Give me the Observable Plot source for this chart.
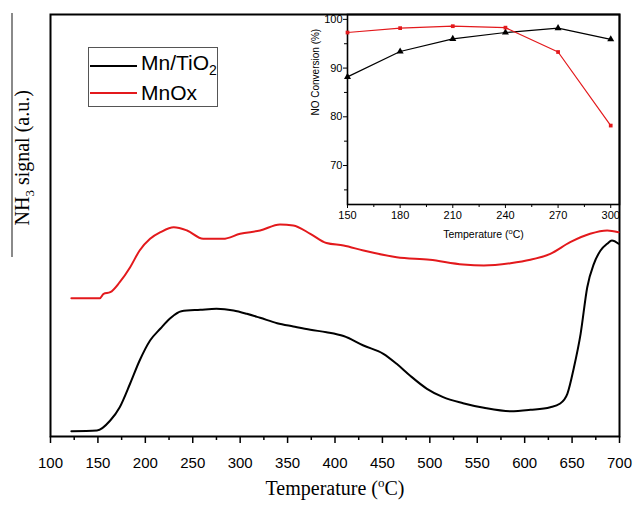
<!DOCTYPE html>
<html><head><meta charset="utf-8">
<script src="https://cdn.jsdelivr.net/npm/d3@7"></script>
<script src="https://cdn.jsdelivr.net/npm/@observablehq/plot@0.6"></script>
<style>
body{margin:0;background:#fff;}
#wrap{position:relative;width:633px;height:505px;overflow:hidden;background:#fff;}
#main,#inset{position:absolute;top:0;}
#main{left:0;}
#inset{left:290px;}
#legend{position:absolute;left:88px;top:47px;width:130px;height:60px;border:1px solid #555;background:#fff;font-family:"Liberation Sans",Arial,sans-serif;font-size:21px;color:#000;box-sizing:border-box;}
.row{position:absolute;left:1px;height:26px;line-height:26px;display:flex;align-items:center;white-space:nowrap;}
.sw{width:47px;height:0;margin-right:4px;}
#artifact{position:absolute;left:11px;top:13px;width:1.5px;height:244px;background:#8a8a8a;}
svg text{white-space:pre;}
</style></head><body>
<div id="wrap">
  <div id="artifact"></div>
  <div id="main"></div>
  <div id="inset"></div>
  <div id="legend"></div>
</div>
<script>
// ---- Main TPD data (temperature °C, NH3 signal a.u.) ----
const mnTiO2Temp = [122,149,163,173,184,194,205,216,226,238,258,275,293,307,321,339,356,374,391,409,430,451,465,479,497,514,535,557,585,606,627,637,645,652,659,666,673,680,687,692,699];
const mnTiO2Signal = [5.3,6,16,29.3,53,76,96,108,118,125.3,126.7,127.7,126,122.7,118.7,113.3,110,106.7,104.3,100.5,91,82.7,72.7,61,47.7,39.3,33.3,28.7,25.3,26.7,29.3,32.7,42.7,69.3,102.7,149.3,172.7,186,192.7,196,192.7];
const mnOxTemp = [122,152,156,163,173,184,194,205,216,230,244,261,282,300,321,342,356,374,391,409,430,465,500,535,557,585,606,627,648,669,687,699];
const mnOxSignal = [138.3,138.3,142.7,144.3,154.3,169.3,186,197.7,204.3,209.3,206,197.7,197.7,202.7,206,212,211,202.7,193.5,191,186,179.3,176.7,172,171,173.3,176.7,182.7,194.3,202.7,206,204.3];
const mainMajorTicks = [100,150,200,250,300,350,400,450,500,550,600,650,700];
const mainMinorTicks = [125,175,225,275,325,375,425,475,525,575,625,675];

// ---- Inset: NO conversion ----
const insetTemp = [150,180,210,240,270,300];
const mnTiO2Conv = [88.2,93.4,96.0,97.3,98.2,95.9];
const mnOxConv = [97.3,98.2,98.6,98.3,93.3,78.2];
const insetXTicks = [150,180,210,240,270,300];
const insetXMinor = [165,195,225,255,285];
const insetYTicks = [70,80,90,100];
const insetYMinor = [65,75,85,95];

const seriesNames = ["Mn/TiO2","MnOx"];
const BLACK = "#000000", RED = "#e3191c";

const blackData = mnTiO2Temp.map((t,i)=>({t, v:mnTiO2Signal[i]}));
const redData = mnOxTemp.map((t,i)=>({t, v:mnOxSignal[i]}));

const main = Plot.plot({
  width:633, height:505,
  marginTop:14, marginRight:14, marginBottom:69, marginLeft:50,
  style:{background:"transparent", fontFamily:"'Liberation Sans', Arial, sans-serif", fontSize:"15px", color:"#000"},
  x:{domain:[100,700]},
  y:{domain:[0,422], axis:null},
  marks:[
    Plot.axisX({ticks:mainMajorTicks, tickSize:7, tickPadding:14, tickFormat:d=>String(d), label:null, strokeWidth:1.5}),
    Plot.axisX({ticks:mainMinorTicks, tickSize:4, tickFormat:()=>"", label:null, strokeWidth:1.5}),
    Plot.frame({stroke:"#000", strokeWidth:2}),
    Plot.line(redData, {x:"t", y:"v", stroke:RED, strokeWidth:2, curve:"monotone-x"}),
    Plot.line(blackData, {x:"t", y:"v", stroke:BLACK, strokeWidth:2, curve:"monotone-x"}),
    Plot.text(["Temperature (oC)"], {text:d=>d, frameAnchor:"bottom", dy:58, fontFamily:"'Liberation Serif', 'Times New Roman', serif", fontSize:20, fill:"#000"}),
    Plot.text(["NH3 signal (a.u.)"], {text:d=>d, frameAnchor:"left", dx:-28, rotate:-90, fontFamily:"'Liberation Serif', 'Times New Roman', serif", fontSize:20, fill:"#000"})
  ]
});
document.getElementById("main").appendChild(main);

const iBlack = insetTemp.map((t,i)=>({t, v:mnTiO2Conv[i]}));
const iRed = insetTemp.map((t,i)=>({t, v:mnOxConv[i]}));

const inset = Plot.plot({
  width:343, height:250,
  marginTop:14, marginRight:14, marginBottom:46, marginLeft:57,
  style:{background:"transparent", fontFamily:"'Liberation Sans', Arial, sans-serif", fontSize:"11px", color:"#000"},
  x:{domain:[150,305]},
  y:{domain:[62,101]},
  marks:[
    Plot.axisX({ticks:insetXTicks, tickSize:4, tickPadding:3, tickFormat:d=>String(d), label:null}),
    Plot.axisX({ticks:insetXMinor, tickSize:3, tickFormat:()=>"", label:null}),
    Plot.axisY({ticks:insetYTicks, tickSize:4, tickPadding:1, tickFormat:d=>String(d), label:null}),
    Plot.axisY({ticks:insetYMinor, tickSize:3, tickFormat:()=>"", label:null}),
    Plot.frame({stroke:"#000", strokeWidth:1.6}),
    Plot.line(iBlack, {x:"t", y:"v", stroke:BLACK, strokeWidth:1.2}),
    Plot.dot(iBlack, {x:"t", y:"v", symbol:"triangle", r:2.6, fill:BLACK, stroke:null}),
    Plot.line(iRed, {x:"t", y:"v", stroke:RED, strokeWidth:1.2}),
    Plot.dot(iRed, {x:"t", y:"v", symbol:"square", r:2.1, fill:RED, stroke:null}),
    Plot.text(["Temperature (oC)"], {text:d=>d, frameAnchor:"bottom", dy:33, fontSize:10.5, fill:"#000"}),
    Plot.text(["NO Conversion (%)"], {text:d=>d, frameAnchor:"left", dx:-32, dy:6, rotate:-90, fontSize:10, fill:"#000"})
  ]
});
document.getElementById("inset").appendChild(inset);

// rich text: superscript / subscript
function rich(svg, plain, parts){
  d3.select(svg).selectAll("text").filter(function(){return this.textContent===plain;}).each(function(){
    const t = d3.select(this); t.text(null);
    parts.forEach(p=>{ const s=t.append("tspan").text(p.s); if(p.dy) s.attr("dy",p.dy); if(p.fs) s.attr("font-size",p.fs); });
  });
}
rich(main, "Temperature (oC)", [{s:"Temperature ("},{s:"o",dy:-8,fs:13},{s:"C)",dy:8}]);
rich(main, "NH3 signal (a.u.)", [{s:"NH"},{s:"3",dy:5,fs:13},{s:" signal (a.u.)",dy:-5}]);
rich(inset, "Temperature (oC)", [{s:"Temperature ("},{s:"o",dy:-4,fs:7.5},{s:"C)",dy:4}]);

// legend
const legend = d3.select("#legend");
const colors = [BLACK, RED];
seriesNames.forEach((name,i)=>{
  const row = legend.append("div").attr("class","row").style("top",(i===0?5:32)+"px");
  row.append("div").attr("class","sw").style("border-top","2px solid "+colors[i]);
  const lab = row.append("span");
  if(name.endsWith("2")){ lab.text(name.slice(0,-1)); lab.append("sub").style("font-size","14px").style("vertical-align","-5px").text("2"); }
  else lab.text(name);
});
</script>
</body></html>
